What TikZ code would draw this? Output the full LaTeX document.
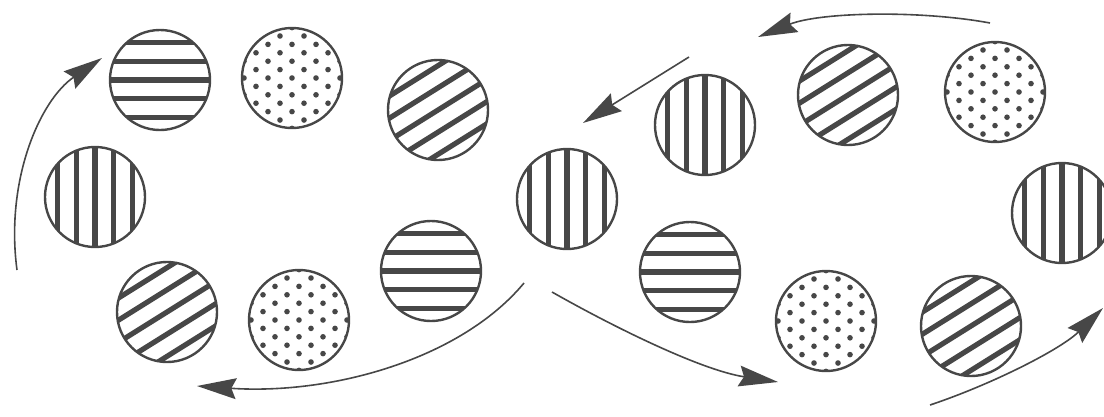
\documentclass[tikz,border=0pt]{standalone}
\usetikzlibrary{arrows.meta}
\colorlet{ink}{black!72}
\newcommand\stripes[1]{%
  \begin{scope}[shift={(path picture bounding box.center)}]
    \foreach \k in {-2,...,2}
      \draw[ink, line width=0.13cm]
        ({-1.4cm*cos(#1)-\k*0.47cm*sin(#1)}, {-1.4cm*sin(#1)+\k*0.47cm*cos(#1)}) --
        ({1.4cm*cos(#1)-\k*0.47cm*sin(#1)}, {1.4cm*sin(#1)+\k*0.47cm*cos(#1)});
  \end{scope}}
\newcommand\dotgrid{%
  \begin{scope}[shift={(path picture bounding box.center)}]
    \foreach \j in {-6,...,6}
      \foreach \i in {-3,...,3}
        \fill[ink] ({\i*0.6cm+mod(abs(\j),2)*0.3cm}, \j*0.21cm) circle (0.07cm);
  \end{scope}}
\begin{document}
\begin{tikzpicture}[x=0.025cm, y=-0.025cm,
  >={Stealth[length=0.98cm, width=0.52cm, inset=0.12cm]},
  disk/.style={circle, draw=ink, line width=0.06cm, minimum size=2.5cm, inner sep=0pt},
  hor/.style={disk, path picture={\stripes{0}}},
  ver/.style={disk, path picture={\stripes{90}}},
  dia/.style={disk, path picture={\stripes{32}}},
  dot/.style={disk, path picture={\dotgrid}},
  flow/.style={->, draw=ink, line width=0.04cm}]
\useasboundingbox (0,0) rectangle (1104,416);
% left ring
\node[hor] (h1) at (160,80) {};
\node[dot] (d1) at (292,78) {};
\node[dia] (g1) at (438,110) {};
\node[ver] (v1) at (95,197) {};
\node[dia] (g2) at (167,312) {};
\node[dot] (d2) at (299,320) {};
\node[hor] (h2) at (431,271) {};
\node[ver] (v2) at (567,199) {};
% right ring
\node[ver] (v3) at (705,125) {};
\node[dia] (g3) at (848,95) {};
\node[dot] (d3) at (995,92) {};
\node[ver] (v4) at (1062,213) {};
\node[hor] (h3) at (690,272) {};
\node[dot] (d4) at (826,321) {};
\node[dia] (g4) at (971,326) {};
% arrow ends
\coordinate (a1) at (17,270);   \coordinate (b1) at (102,58);
\coordinate (a2) at (524,283);  \coordinate (b2) at (197,386);
\coordinate (a3) at (552,292);  \coordinate (b3) at (778,382);
\coordinate (a4) at (930,405);  \coordinate (b4) at (1103,308);
\coordinate (a5) at (990,23);   \coordinate (b5) at (758,37);
\coordinate (a6) at (689,57);   \coordinate (b6) at (583,123);
\draw[flow] (a1) .. controls (5,180) and (40,100) .. (b1);
\draw[flow] (a2) .. controls (460,360) and (330,395) .. (b2);
\draw[flow] (a3) .. controls (610,325) and (700,370) .. (b3);
\draw[flow] (a4) .. controls (990,385) and (1060,350) .. (b4);
\draw[flow] (a5) .. controls (920,10) and (820,12) .. (b5);
\draw[flow] (a6) -- (b6);
\end{tikzpicture}
\end{document}
